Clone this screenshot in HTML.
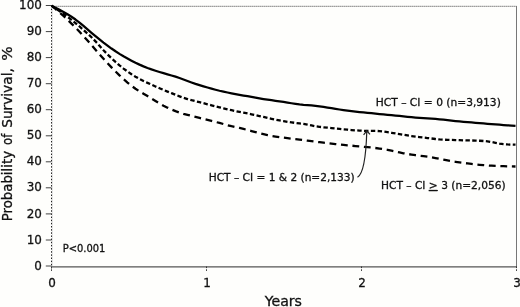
<!DOCTYPE html>
<html><head><meta charset="utf-8"><title>Survival</title>
<style>
html,body{margin:0;padding:0;background:#fefefc;}
svg{display:block;}
text{font-family:"DejaVu Sans","Liberation Sans",sans-serif;fill:#111;stroke:#111;stroke-width:0.3px;}
</style></head>
<body>
<svg width="520" height="307" viewBox="0 0 520 307">
<rect width="520" height="307" fill="#fefefc"/>
<line x1="52.5" y1="6" x2="52.5" y2="266" stroke="#e4e4e4" stroke-width="1"/>
<line x1="51.5" y1="6.3" x2="516.5" y2="6.3" stroke="#666" stroke-width="1" stroke-dasharray="1.3,0.7"/>
<line x1="516.5" y1="6" x2="516.5" y2="267" stroke="#777" stroke-width="1"/>
<line x1="51.5" y1="266.8" x2="517.0" y2="266.8" stroke="#555" stroke-width="1.2"/>
<line x1="51.5" y1="5.5" x2="51.5" y2="270" stroke="#222" stroke-width="1" stroke-dasharray="1.5,1.65"/>
<line x1="45.8" y1="5.5" x2="51.5" y2="5.5" stroke="#444" stroke-width="1"/>
<text x="19.1" y="9.1" font-size="12.7" textLength="22.8" lengthAdjust="spacingAndGlyphs">100</text>
<line x1="45.8" y1="31.6" x2="51.5" y2="31.6" stroke="#444" stroke-width="1"/>
<text x="26.7" y="35.1" font-size="12.7" textLength="15.2" lengthAdjust="spacingAndGlyphs">90</text>
<line x1="45.8" y1="57.6" x2="51.5" y2="57.6" stroke="#444" stroke-width="1"/>
<text x="26.7" y="61.2" font-size="12.7" textLength="15.2" lengthAdjust="spacingAndGlyphs">80</text>
<line x1="45.8" y1="83.7" x2="51.5" y2="83.7" stroke="#444" stroke-width="1"/>
<text x="26.7" y="87.2" font-size="12.7" textLength="15.2" lengthAdjust="spacingAndGlyphs">70</text>
<line x1="45.8" y1="109.7" x2="51.5" y2="109.7" stroke="#444" stroke-width="1"/>
<text x="26.7" y="113.3" font-size="12.7" textLength="15.2" lengthAdjust="spacingAndGlyphs">60</text>
<line x1="45.8" y1="135.8" x2="51.5" y2="135.8" stroke="#444" stroke-width="1"/>
<text x="26.7" y="139.3" font-size="12.7" textLength="15.2" lengthAdjust="spacingAndGlyphs">50</text>
<line x1="45.8" y1="161.8" x2="51.5" y2="161.8" stroke="#444" stroke-width="1"/>
<text x="26.7" y="165.4" font-size="12.7" textLength="15.2" lengthAdjust="spacingAndGlyphs">40</text>
<line x1="45.8" y1="187.8" x2="51.5" y2="187.8" stroke="#444" stroke-width="1"/>
<text x="26.7" y="191.4" font-size="12.7" textLength="15.2" lengthAdjust="spacingAndGlyphs">30</text>
<line x1="45.8" y1="213.9" x2="51.5" y2="213.9" stroke="#444" stroke-width="1"/>
<text x="26.7" y="217.5" font-size="12.7" textLength="15.2" lengthAdjust="spacingAndGlyphs">20</text>
<line x1="45.8" y1="240.0" x2="51.5" y2="240.0" stroke="#444" stroke-width="1"/>
<text x="26.7" y="243.6" font-size="12.7" textLength="15.2" lengthAdjust="spacingAndGlyphs">10</text>
<line x1="45.8" y1="266.0" x2="51.5" y2="266.0" stroke="#444" stroke-width="1"/>
<text x="34.3" y="269.6" font-size="12.7" textLength="7.6" lengthAdjust="spacingAndGlyphs">0</text>
<line x1="51.5" y1="266.5" x2="51.5" y2="271.0" stroke="#333" stroke-width="1" stroke-dasharray="1.6,1.2"/>
<text x="48.3" y="286.8" font-size="12.4" textLength="7.6" lengthAdjust="spacingAndGlyphs">0</text>
<line x1="206.5" y1="266.5" x2="206.5" y2="271.0" stroke="#333" stroke-width="1" stroke-dasharray="1.6,1.2"/>
<text x="203.3" y="286.8" font-size="12.4" textLength="7.6" lengthAdjust="spacingAndGlyphs">1</text>
<line x1="361.5" y1="266.5" x2="361.5" y2="271.0" stroke="#333" stroke-width="1" stroke-dasharray="1.6,1.2"/>
<text x="358.3" y="286.8" font-size="12.4" textLength="7.6" lengthAdjust="spacingAndGlyphs">2</text>
<line x1="516.5" y1="266.5" x2="516.5" y2="271.0" stroke="#333" stroke-width="1" stroke-dasharray="1.6,1.2"/>
<text x="513.3" y="286.8" font-size="12.4" textLength="7.6" lengthAdjust="spacingAndGlyphs">3</text>
<text transform="translate(11.6,221.2) rotate(-90)" font-size="14" textLength="70.2" lengthAdjust="spacingAndGlyphs">Probability</text>
<text transform="translate(11.6,144.9) rotate(-90)" font-size="14" textLength="11.2" lengthAdjust="spacingAndGlyphs">of</text>
<text transform="translate(11.6,127.8) rotate(-90)" font-size="14" textLength="59.6" lengthAdjust="spacingAndGlyphs">Survival,</text>
<text transform="translate(11.6,60.7) rotate(-90)" font-size="14" textLength="14.4" lengthAdjust="spacingAndGlyphs">%</text>
<text x="264.7" y="305.6" font-size="13.6" textLength="37.3" lengthAdjust="spacingAndGlyphs">Years</text>
<path d="M51.5,5.70 L55.5,7.70 L59.5,9.83 L63.5,12.00 L67.5,14.29 L71.5,16.78 L75.5,19.53 L79.5,22.60 L83.5,25.97 L87.5,29.42 L91.5,32.78 L95.5,36.09 L99.5,39.38 L103.5,42.59 L107.5,45.63 L111.5,48.54 L115.5,51.30 L119.5,53.90 L123.5,56.31 L127.5,58.55 L131.5,60.69 L135.5,62.72 L139.5,64.62 L143.5,66.35 L147.5,67.94 L151.5,69.40 L155.5,70.74 L159.5,71.99 L163.5,73.17 L167.5,74.31 L171.5,75.47 L175.5,76.68 L179.5,77.98 L183.5,79.44 L187.5,80.96 L191.5,82.45 L195.5,83.85 L199.5,85.15 L203.5,86.36 L207.5,87.50 L211.5,88.62 L215.5,89.72 L219.5,90.75 L223.5,91.67 L227.5,92.50 L231.5,93.30 L235.5,94.09 L239.5,94.85 L243.5,95.55 L247.5,96.23 L251.5,96.94 L255.5,97.69 L259.5,98.42 L263.5,99.07 L267.5,99.65 L271.5,100.21 L275.5,100.77 L279.5,101.36 L283.5,101.97 L287.5,102.60 L291.5,103.24 L295.5,103.86 L299.5,104.39 L303.5,104.80 L307.5,105.10 L311.5,105.40 L315.5,105.80 L319.5,106.33 L323.5,106.95 L327.5,107.59 L331.5,108.23 L335.5,108.87 L339.5,109.49 L343.5,110.09 L347.5,110.65 L351.5,111.18 L355.5,111.64 L359.5,112.05 L363.5,112.44 L367.5,112.84 L371.5,113.24 L375.5,113.65 L379.5,114.03 L383.5,114.40 L387.5,114.76 L391.5,115.14 L395.5,115.55 L399.5,115.98 L403.5,116.40 L407.5,116.82 L411.5,117.22 L415.5,117.56 L419.5,117.84 L423.5,118.08 L427.5,118.33 L431.5,118.62 L435.5,118.95 L439.5,119.31 L443.5,119.73 L447.5,120.18 L451.5,120.63 L455.5,121.05 L459.5,121.44 L463.5,121.81 L467.5,122.16 L471.5,122.49 L475.5,122.82 L479.5,123.13 L483.5,123.45 L487.5,123.77 L491.5,124.09 L495.5,124.40 L499.5,124.72 L503.5,125.01 L507.5,125.28 L511.5,125.54 L515.5,125.80" fill="none" stroke="#000" stroke-width="2.25" stroke-linejoin="round"/>
<path d="M51.5,5.70 L55.5,8.32 L59.5,11.07 L63.5,13.88 L67.5,16.78 L71.5,19.85 L75.5,23.08 L79.5,26.45 L83.5,29.97 L87.5,33.55 L91.5,37.25 L95.5,41.32 L99.5,45.79 L103.5,50.26 L107.5,54.40 L111.5,58.25 L115.5,61.90 L119.5,65.35 L123.5,68.55 L127.5,71.51 L131.5,74.25 L135.5,76.74 L139.5,79.00 L143.5,81.01 L147.5,82.87 L151.5,84.67 L155.5,86.47 L159.5,88.22 L163.5,89.92 L167.5,91.57 L171.5,93.19 L175.5,94.79 L179.5,96.32 L183.5,97.75 L187.5,99.06 L191.5,100.21 L195.5,101.20 L199.5,102.17 L203.5,103.20 L207.5,104.27 L211.5,105.32 L215.5,106.32 L219.5,107.31 L223.5,108.31 L227.5,109.31 L231.5,110.24 L235.5,111.09 L239.5,111.90 L243.5,112.70 L247.5,113.49 L251.5,114.29 L255.5,115.12 L259.5,116.02 L263.5,116.96 L267.5,117.89 L271.5,118.78 L275.5,119.64 L279.5,120.44 L283.5,121.16 L287.5,121.82 L291.5,122.41 L295.5,122.92 L299.5,123.39 L303.5,123.92 L307.5,124.63 L311.5,125.47 L315.5,126.25 L319.5,126.83 L323.5,127.28 L327.5,127.69 L331.5,128.11 L335.5,128.53 L339.5,128.93 L343.5,129.33 L347.5,129.70 L351.5,130.05 L355.5,130.36 L359.5,130.62 L363.5,130.80 L367.5,130.88 L371.5,130.86 L375.5,130.89 L379.5,131.13 L383.5,131.59 L387.5,132.17 L391.5,132.80 L395.5,133.45 L399.5,134.10 L403.5,134.75 L407.5,135.40 L411.5,136.02 L415.5,136.59 L419.5,137.09 L423.5,137.55 L427.5,138.02 L431.5,138.51 L435.5,139.00 L439.5,139.40 L443.5,139.67 L447.5,139.83 L451.5,139.96 L455.5,140.09 L459.5,140.21 L463.5,140.33 L467.5,140.42 L471.5,140.50 L475.5,140.60 L479.5,140.75 L483.5,140.99 L487.5,141.37 L491.5,142.01 L495.5,142.86 L499.5,143.66 L503.5,144.20 L507.5,144.47 L511.5,144.60 L515.5,144.70" fill="none" stroke="#000" stroke-width="2.3" stroke-dasharray="4.4,2.4" stroke-linejoin="round"/>
<path d="M51.5,5.70 L55.5,8.97 L59.5,12.42 L63.5,15.98 L67.5,19.68 L71.5,23.55 L75.5,27.58 L79.5,31.75 L83.5,36.08 L87.5,40.54 L91.5,45.11 L95.5,49.74 L99.5,54.33 L103.5,58.81 L107.5,63.18 L111.5,67.40 L115.5,71.46 L119.5,75.37 L123.5,79.09 L127.5,82.61 L131.5,85.86 L135.5,88.76 L139.5,91.34 L143.5,93.74 L147.5,96.11 L151.5,98.55 L155.5,101.05 L159.5,103.47 L163.5,105.68 L167.5,107.67 L171.5,109.50 L175.5,111.15 L179.5,112.60 L183.5,113.81 L187.5,114.87 L191.5,115.88 L195.5,116.88 L199.5,117.89 L203.5,118.91 L207.5,119.94 L211.5,120.94 L215.5,121.93 L219.5,122.96 L223.5,124.06 L227.5,125.18 L231.5,126.20 L235.5,127.10 L239.5,127.98 L243.5,128.94 L247.5,129.97 L251.5,131.04 L255.5,132.13 L259.5,133.21 L263.5,134.21 L267.5,135.13 L271.5,135.91 L275.5,136.55 L279.5,137.12 L283.5,137.65 L287.5,138.18 L291.5,138.68 L295.5,139.17 L299.5,139.63 L303.5,140.11 L307.5,140.62 L311.5,141.18 L315.5,141.72 L319.5,142.23 L323.5,142.71 L327.5,143.18 L331.5,143.64 L335.5,144.09 L339.5,144.52 L343.5,144.92 L347.5,145.31 L351.5,145.68 L355.5,146.04 L359.5,146.40 L363.5,146.76 L367.5,147.14 L371.5,147.55 L375.5,148.01 L379.5,148.54 L383.5,149.16 L387.5,149.86 L391.5,150.65 L395.5,151.53 L399.5,152.44 L403.5,153.27 L407.5,153.98 L411.5,154.62 L415.5,155.18 L419.5,155.65 L423.5,156.10 L427.5,156.63 L431.5,157.31 L435.5,158.09 L439.5,158.89 L443.5,159.69 L447.5,160.47 L451.5,161.19 L455.5,161.84 L459.5,162.41 L463.5,162.94 L467.5,163.45 L471.5,163.94 L475.5,164.39 L479.5,164.80 L483.5,165.14 L487.5,165.45 L491.5,165.70 L495.5,165.89 L499.5,166.05 L503.5,166.19 L507.5,166.30 L511.5,166.40 L515.5,166.50" fill="none" stroke="#000" stroke-width="2.3" stroke-dasharray="6.8,4.7" stroke-linejoin="round"/>
<text x="375.8" y="105.8" font-size="10.6" stroke="#111" stroke-width="0.2" textLength="125" lengthAdjust="spacingAndGlyphs">HCT – CI = 0 (n=3,913)</text>
<text x="208.7" y="181.3" font-size="10.6" stroke="#111" stroke-width="0.2" textLength="146" lengthAdjust="spacingAndGlyphs">HCT – CI = 1 &amp; 2 (n=2,133)</text>
<text x="381" y="189" font-size="10.6" stroke="#111" stroke-width="0.2" textLength="124.6" lengthAdjust="spacingAndGlyphs">HCT – CI <tspan text-decoration="underline">&gt;</tspan> 3 (n=2,056)</text>
<text x="62.7" y="252" font-size="10.6" stroke="#111" stroke-width="0.2" textLength="42.7" lengthAdjust="spacingAndGlyphs">P&lt;0.001</text>
<path d="M357.5,177.2 C362.5,174.5 366,158 366.8,131 M363.6,134.9 L366.8,130.8 L370,134.3" fill="none" stroke="#222" stroke-width="1.2"/>
</svg>
</body></html>
